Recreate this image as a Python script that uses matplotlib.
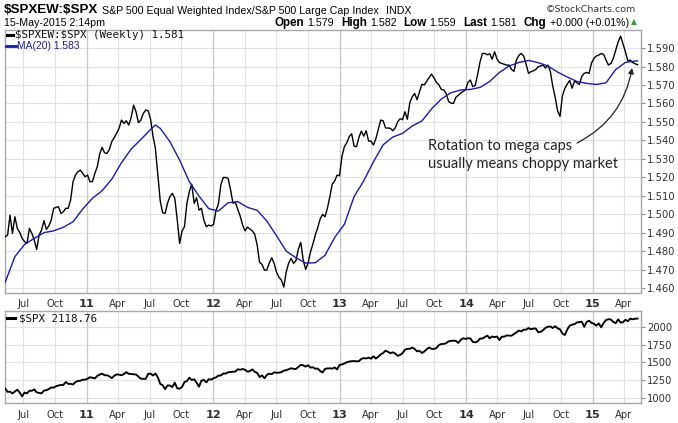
import matplotlib
matplotlib.use("Agg")
import matplotlib.pyplot as plt
from matplotlib.transforms import IdentityTransform
from matplotlib.lines import Line2D
from matplotlib.patches import FancyArrowPatch
import numpy as np
import pandas as pd

plt.rcParams["text.parse_math"] = False

# ---------------- data ----------------
first_week = "2010-05-10"

ratio = [
    1.4878, 1.4887, 1.4995, 1.4896, 1.4986, 1.4923, 1.4901, 1.4869, 1.4851, 1.4842,
    1.4923, 1.4896, 1.4860, 1.4809, 1.4887, 1.4914, 1.4965, 1.4918, 1.4936, 1.4968,
    1.5032, 1.5037, 1.5041, 1.5004, 1.5013, 1.5032, 1.5032, 1.5077, 1.5176, 1.5212,
    1.5230, 1.5239, 1.5221, 1.5203, 1.5212, 1.5176, 1.5176, 1.5221, 1.5257, 1.5326,
    1.5362, 1.5333, 1.5329, 1.5351, 1.5393, 1.5416, 1.5438, 1.5465, 1.5510, 1.5492,
    1.5506, 1.5483, 1.5524, 1.5591, 1.5555, 1.5496, 1.5510, 1.5546, 1.5564, 1.5561,
    1.5515, 1.5423, 1.5356, 1.5212, 1.5071, 1.5008, 1.5004, 1.5059, 1.5096, 1.5113,
    1.5086, 1.4972, 1.4842, 1.4909, 1.4932, 1.5059, 1.5122, 1.5163, 1.5059, 1.5089,
    1.5022, 1.5032, 1.4968, 1.4932, 1.4941, 1.4936, 1.4945, 1.5019, 1.5055, 1.5158,
    1.5199, 1.5199, 1.5194, 1.5134, 1.5060, 1.5064, 1.5026, 1.4990, 1.4941, 1.4910,
    1.4930, 1.4920, 1.4909, 1.4891, 1.4833, 1.4739, 1.4728, 1.4697, 1.4697, 1.4735,
    1.4764, 1.4734, 1.4685, 1.4658, 1.4643, 1.4605, 1.4687, 1.4735, 1.4761, 1.4734,
    1.4748, 1.4811, 1.4847, 1.4752, 1.4701, 1.4734, 1.4795, 1.4838, 1.4887, 1.4927,
    1.4974, 1.4999, 1.4986, 1.5032, 1.5095, 1.5163, 1.5180, 1.5212, 1.5208, 1.5313,
    1.5366, 1.5387, 1.5420, 1.5436, 1.5369, 1.5366, 1.5416, 1.5450, 1.5423, 1.5452,
    1.5396, 1.5396, 1.5375, 1.5409, 1.5459, 1.5510, 1.5506, 1.5467, 1.5467, 1.5465,
    1.5452, 1.5468, 1.5501, 1.5517, 1.5512, 1.5555, 1.5514, 1.5604, 1.5636, 1.5654,
    1.5620, 1.5663, 1.5703, 1.5701, 1.5721, 1.5741, 1.5759, 1.5738, 1.5714, 1.5701,
    1.5676, 1.5673, 1.5654, 1.5611, 1.5602, 1.5600, 1.5633, 1.5644, 1.5656, 1.5665,
    1.5674, 1.5714, 1.5727, 1.5691, 1.5698, 1.5757, 1.5826, 1.5871, 1.5871, 1.5864,
    1.5869, 1.5840, 1.5880, 1.5840, 1.5822, 1.5817, 1.5812, 1.5808, 1.5808, 1.5784,
    1.5774, 1.5835, 1.5860, 1.5871, 1.5857, 1.5813, 1.5763, 1.5772, 1.5777, 1.5784,
    1.5799, 1.5803, 1.5808, 1.5792, 1.5808, 1.5774, 1.5694, 1.5633, 1.5560, 1.5530,
    1.5642, 1.5682, 1.5705, 1.5725, 1.5683, 1.5721, 1.5712, 1.5703, 1.5747, 1.5763,
    1.5768, 1.5763, 1.5819, 1.5844, 1.5857, 1.5862, 1.5871, 1.5866, 1.5835, 1.5808,
    1.5817, 1.5844, 1.5889, 1.5934, 1.5965, 1.5922, 1.5880, 1.5830, 1.5835, 1.5822,
    1.5815, 1.5810,
]

ma_weeks = [0, 4, 8, 12, 16, 20, 24, 28, 32, 36, 40, 44, 48, 52, 56, 60, 62, 64, 68,
            72, 76, 80, 84, 88, 92, 96, 100, 104, 108, 112, 116, 120, 124, 128, 132,
            136, 140, 144, 148, 152, 156, 160, 164, 168, 172, 176, 180, 184, 188, 192,
            196, 200, 204, 208, 212, 216, 220, 224, 228, 232, 236, 240, 244, 248, 252,
            256, 260, 261]
ma_values = [1.4631, 1.4770, 1.4836, 1.4869, 1.4900, 1.4910, 1.4929, 1.4959, 1.5028,
             1.5086, 1.5127, 1.5190, 1.5279, 1.5353, 1.5405, 1.5459, 1.5483, 1.5465,
             1.5393, 1.5293, 1.5176, 1.5098, 1.5030, 1.5017, 1.5062, 1.5068, 1.5037,
             1.5021, 1.4963, 1.4883, 1.4800, 1.4764, 1.4735, 1.4737, 1.4777, 1.4874,
             1.4945, 1.5095, 1.5181, 1.5284, 1.5376, 1.5418, 1.5438, 1.5478, 1.5505,
             1.5571, 1.5624, 1.5658, 1.5673, 1.5676, 1.5687, 1.5719, 1.5768, 1.5803,
             1.5822, 1.5833, 1.5821, 1.5803, 1.5770, 1.5743, 1.5719, 1.5709, 1.5703,
             1.5712, 1.5784, 1.5822, 1.5830, 1.5830]

spx = [
    # 2010
    1135, 1087, 1089, 1064, 1091, 1117, 1076, 1022, 1078, 1065, 1102, 1101, 1121, 1079,
    1071, 1065, 1104, 1110, 1125, 1148, 1146, 1165, 1176, 1183, 1183, 1225, 1199, 1199,
    1189, 1224, 1240, 1243, 1256, 1258,
    # 2011
    1271, 1293, 1283, 1276, 1311, 1329, 1343, 1320, 1321, 1304, 1279, 1313, 1332, 1328,
    1320, 1337, 1364, 1340, 1338, 1333, 1331, 1300, 1271, 1271, 1268, 1340, 1344, 1316,
    1345, 1292, 1199, 1179, 1124, 1177, 1174, 1154, 1216, 1136, 1131, 1155, 1225, 1238,
    1285, 1253, 1263, 1216, 1159, 1244, 1255, 1219, 1265, 1258,
    # 2012
    1278, 1289, 1315, 1316, 1345, 1343, 1362, 1366, 1370, 1371, 1404, 1397, 1408, 1398,
    1370, 1378, 1403, 1369, 1353, 1295, 1318, 1278, 1325, 1343, 1335, 1362, 1355, 1357,
    1363, 1386, 1391, 1405, 1418, 1411, 1407, 1438, 1466, 1460, 1441, 1461, 1428, 1433,
    1412, 1414, 1380, 1359, 1409, 1416, 1418, 1413, 1430, 1402,
    # 2013
    1466, 1472, 1486, 1503, 1513, 1518, 1520, 1516, 1518, 1551, 1561, 1556, 1569, 1553,
    1588, 1555, 1582, 1614, 1633, 1667, 1650, 1631, 1643, 1626, 1593, 1606, 1632, 1680,
    1692, 1692, 1710, 1691, 1656, 1664, 1633, 1655, 1688, 1710, 1692, 1691, 1703, 1745,
    1760, 1762, 1771, 1798, 1805, 1806, 1805, 1775, 1818, 1841,
    # 2014
    1831, 1842, 1839, 1790, 1783, 1797, 1838, 1836, 1859, 1878, 1841, 1866, 1857, 1865,
    1816, 1864, 1863, 1881, 1878, 1877, 1900, 1924, 1950, 1936, 1963, 1961, 1985, 1968,
    1978, 1978, 1925, 1931, 1955, 1988, 2003, 2008, 1985, 2010, 1982, 1967, 1906, 1887,
    1965, 2018, 2032, 2040, 2064, 2068, 2075, 2002, 2071, 2088,
    # 2015
    2058, 2045, 2019, 2051, 1995, 2055, 2097, 2110, 2104, 2071, 2053, 2108, 2061, 2067,
    2102, 2081, 2117, 2108, 2116, 2118.76,
]

ratio_ticks = [1.46, 1.47, 1.48, 1.49, 1.50, 1.51, 1.52, 1.53, 1.54, 1.55, 1.56, 1.57, 1.58, 1.59]
spx_ticks = [1000, 1250, 1500, 1750, 2000]

quote_open, quote_high, quote_low, quote_last = 1.579, 1.582, 1.559, 1.581
quote_chg, quote_chg_pct = 0.000, 0.01
ma_last = 1.583

# ---------------- figure ----------------
W, H = 678, 423
fig = plt.figure(figsize=(W / 100, H / 100), dpi=100)
fig.patch.set_facecolor("white")

dates = pd.date_range(first_week, periods=len(ratio), freq="7D")
ma_dates = dates[ma_weeks]


def px_rect(l, t, r, b):
    return [l / W, (H - b) / H, (r - l) / W, (b - t) / H]


ax1 = fig.add_axes(px_rect(4.5, 30, 641, 293))
ax2 = fig.add_axes(px_rect(4.5, 310.5, 641, 403.3))

xmin, xmax = pd.Timestamp("2010-05-08"), pd.Timestamp("2015-05-21")
qticks = pd.date_range("2010-07-01", "2015-04-01", freq="QS-JAN")
qlabels = [f"{d.year % 100:02d}" if d.month == 1 else d.strftime("%b") for d in qticks]

tick_font = "DejaVu Sans"
for ax in (ax1, ax2):
    ax.set_facecolor("white")
    for s in ax.spines.values():
        s.set_color("#a8a8a8")
        s.set_linewidth(1.0)
    ax.set_xlim(xmin, xmax)
    ax.yaxis.tick_right()
    ax.tick_params(axis="y", length=3, width=0.8, color="#909090", pad=1.5,
                   labelsize=7.2, labelcolor="#303030")
    ax.tick_params(axis="x", length=0, pad=4.5, labelsize=7.2, labelcolor="#303030")
    ax.set_xticks(qticks)
    ax.set_xticklabels(qlabels)
    for lab, d in zip(ax.get_xticklabels(), qticks):
        lab.set_fontfamily(tick_font)
        if d.month == 1:
            lab.set_fontweight("bold")
            lab.set_fontsize(8.2)
    ax.grid(True, color="#e2e2e2", lw=0.8)
    ax.set_axisbelow(True)
    for d in qticks:
        if d.month == 1:
            ax.axvline(d, color="#c8c8c8", lw=0.9, zorder=0.6)

ax1.set_ylim(1.4573, 1.5998)
ax1.set_yticks(ratio_ticks)
ax1.set_yticklabels([f"{v:.3f}" for v in ratio_ticks])
ax2.set_ylim(925, 2232)
ax2.set_yticks(spx_ticks)
ax2.set_yticklabels([str(v) for v in spx_ticks])

ax1.plot(dates, ratio, color="black", lw=1.0, zorder=3)
ax1.plot(ma_dates, ma_values, color="#1c1ca0", lw=1.0, zorder=4)
ax2.plot(dates, spx, color="black", lw=1.35, zorder=3)

# annotation
ax1.text(0.6654, 0.5247, "Rotation to mega caps\nusually means choppy market",
         transform=ax1.transAxes, fontsize=10.5, family="Lato", color="#222222",
         va="center", ha="left", linespacing=1.3, zorder=5)
arrow = FancyArrowPatch(posA=(0.8995, 0.5703), posB=(0.9859, 0.8555),
                        transform=ax1.transAxes, connectionstyle="arc3,rad=0.25",
                        arrowstyle="-|>", mutation_scale=8, color="#222222", lw=0.9,
                        shrinkA=0, shrinkB=0, zorder=5)
ax1.add_patch(arrow)

# ---------------- header & legends (pixel placed) ----------------
renderer = fig.canvas.get_renderer()
ID = IdentityTransform()


def put(x, y, s, ha="left", **kw):
    return fig.text(x, H - y, s, transform=ID, ha=ha, va="center", **kw)


def wid(t):
    return t.get_window_extent(renderer).width


HF = "Liberation Sans"
t = put(4, 10, "$SPXEW:$SPX", family=HF, fontweight="bold", fontsize=9.6)
x = 4 + wid(t) + 4
t = put(x, 10.5, "S&P 500 Equal Weighted Index/S&P 500 Large Cap Index", family=HF, fontsize=7.7)
x += wid(t) + 7
put(x, 10.5, "INDX", family=HF, fontsize=7.7)
put(636, 9.5, "\u00a9StockCharts.com", ha="right", family="DejaVu Sans", fontsize=6.8,
    color="#333333")

put(4, 23, "15-May-2015 2:14pm", family=HF, fontsize=7.7)

runs = [("Open", True), (f"{quote_open:.3f}", False), ("High", True), (f"{quote_high:.3f}", False),
        ("Low", True), (f"{quote_low:.3f}", False), ("Last", True), (f"{quote_last:.3f}", False),
        ("Chg", True), (f"+{quote_chg:.3f} (+{quote_chg_pct:.2f}%)", False)]
xr = 637
t = put(xr, 22, "\u25b2", ha="right", family="DejaVu Sans", fontsize=5.5, color="#2e9e2e")
xr -= wid(t) + 2.5
for s, bold in reversed(runs):
    if bold:
        t = put(xr, 23, s, ha="right", family=HF, fontweight="bold", fontsize=8.4)
        xr -= wid(t) + 7
    else:
        t = put(xr, 23, s, ha="right", family=HF, fontsize=7.7)
        xr -= wid(t) + 3

# panel legends
fig.add_artist(Line2D([7, 12.5], [H - 35, H - 35], transform=ID, color="black", lw=2.2))
put(15, 35, f"$SPXEW:$SPX (Weekly) {ratio[-1]:.3f}", family="DejaVu Sans Mono", fontsize=7.8,
    color="#111111")
fig.add_artist(Line2D([6, 16], [H - 46, H - 46], transform=ID, color="#1c1ca0", lw=2.0))
put(17, 46, f"MA(20) {ma_last:.3f}", family=HF, fontsize=7.4, color="#1c1ca0")

fig.add_artist(Line2D([7, 15], [H - 318, H - 318], transform=ID, color="black", lw=2.2))
put(19, 318, f"$SPX {spx[-1]:.2f}", family="DejaVu Sans Mono", fontsize=7.8, color="#111111")

fig.savefig("out.png", dpi=100, facecolor="white")
